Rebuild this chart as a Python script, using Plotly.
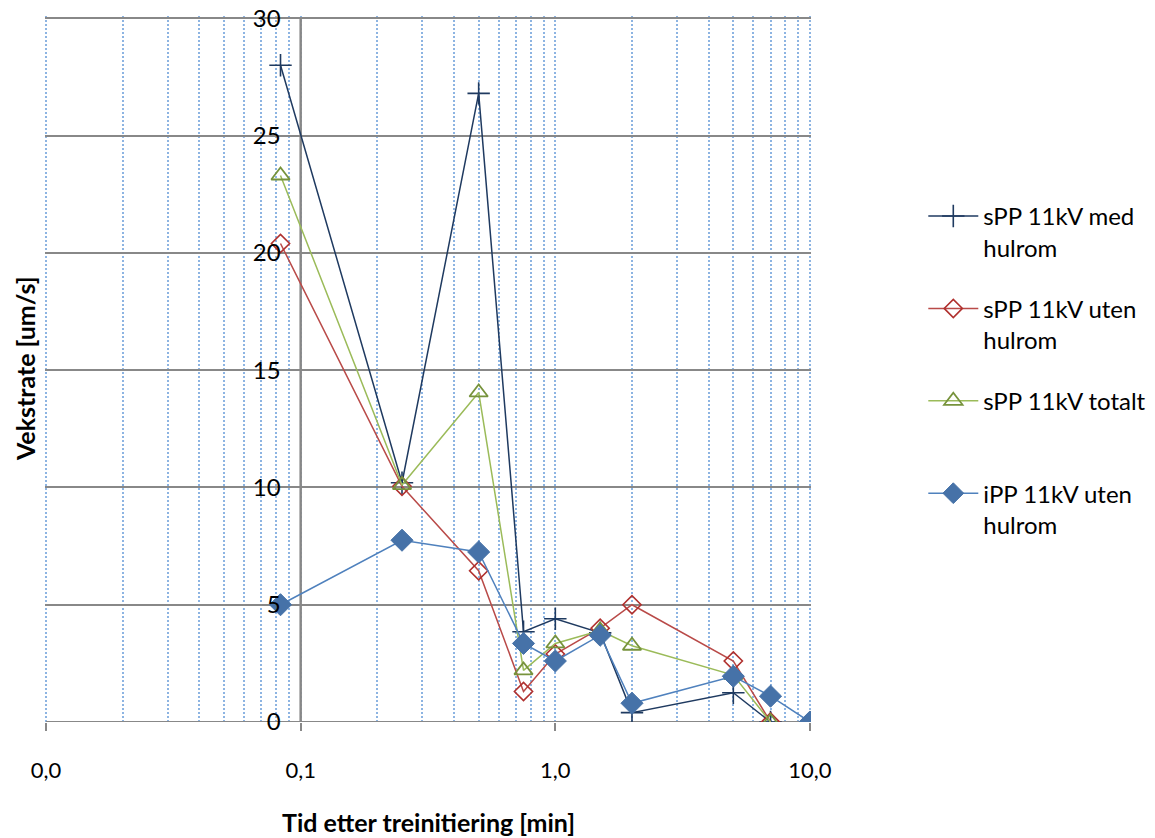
import math
import plotly.graph_objects as go

# x values: time after tree initiation [min]
x_vals = [5/60, 0.25, 0.5, 0.75, 1.0, 1.5, 2.0, 5.0, 7.0]
x_vals_ipp = [5/60, 0.25, 0.5, 0.75, 1.0, 1.5, 2.0, 5.0, 7.0, 10.0]

spp_med = [28.0, 10.2, 26.8, 3.85, 4.4, 3.8, 0.4, 1.25, 0.0]
spp_uten = [20.4, 10.05, 6.45, 1.3, 2.9, 4.0, 5.0, 2.6, 0.0]
spp_totalt = [23.3, 10.1, 14.05, 2.2, 3.35, 3.9, 3.25, 2.0, 0.0]
ipp_uten = [5.0, 7.75, 7.25, 3.35, 2.6, 3.7, 0.8, 1.95, 1.1, 0.0]

names = ["sPP 11kV med<br>hulrom", "sPP 11kV uten<br>hulrom", "sPP 11kV totalt<br> ", "iPP 11kV uten<br>hulrom"]

x_tickvals = [0.01, 0.1, 1, 10]
x_ticktext = ["0,0", "0,1", "1,0", "10,0"]
y_tickvals = [0, 5, 10, 15, 20, 25, 30]

minor_vals = [m * 10**e for e in (-2, -1, 0) for m in range(2, 10)]

FONT = "Lato, 'Open Sans', sans-serif"
GRID_GRAY = "#888888"
DOT_BLUE = "#8DB4E2"

X_RANGE = [-2.004, 1.004]
Y_RANGE = [0, 30.1]
Y_CROSS = 0.1  # y axis crosses x axis at this value
y_pos = (math.log10(Y_CROSS) - X_RANGE[0]) / (X_RANGE[1] - X_RANGE[0])

fig = go.Figure()

fig.add_trace(go.Scatter(
    x=x_vals, y=spp_med, name=names[0], mode="lines+markers",
    line=dict(color="#1F3A60", width=1.5),
    marker=dict(symbol="cross-thin", size=16, line=dict(color="#1F3A60", width=1.6)),
    legendgroup="a"))
fig.add_trace(go.Scatter(
    x=x_vals, y=spp_uten, name=names[1], mode="lines+markers",
    line=dict(color="#B94A48", width=1.5),
    marker=dict(symbol="diamond-open", size=14, color="#B0302E", line=dict(color="#B0302E", width=1.6)),
    legendgroup="b"))
fig.add_trace(go.Scatter(
    x=x_vals, y=spp_totalt, name=names[2], mode="lines+markers",
    line=dict(color="#9BBB59", width=1.5),
    marker=dict(symbol="triangle-up-open", size=16, color="#77933C", line=dict(color="#77933C", width=1.8)),
    legendgroup="c"))
fig.add_trace(go.Scatter(
    x=x_vals_ipp, y=ipp_uten, name=names[3], mode="lines+markers",
    line=dict(color="#4F81BD", width=1.5),
    marker=dict(symbol="diamond", size=17, color="#4672A8", line=dict(color="#4672A8", width=1)),
    legendgroup="d"))

fig.update_layout(
    width=1155, height=838,
    margin=dict(l=45, r=344, t=16, b=116, autoexpand=False),
    paper_bgcolor="white", plot_bgcolor="white",
    font=dict(family=FONT, size=22, color="black"),
    showlegend=True,
    legend=dict(x=1.1466, xanchor="left", y=0.748, yanchor="top",
                font=dict(size=24, family=FONT, color="black"),
                itemwidth=50,
                valign="top", tracegroupgap=27, bgcolor="rgba(0,0,0,0)"),
    xaxis=dict(
        type="log", range=X_RANGE, automargin=False,
        tickmode="array", tickvals=x_tickvals, ticktext=x_ticktext,
        ticks="outside", ticklen=8, tickwidth=2, tickcolor=GRID_GRAY,
        ticklabelstandoff=21, ticklabeloverflow="allow",
        showgrid=True, gridcolor=DOT_BLUE, griddash="2px,2px", gridwidth=2,
        minor=dict(tickmode="array", tickvals=minor_vals, showgrid=True,
                   gridcolor=DOT_BLUE, griddash="2px,2px", gridwidth=2, ticks=""),
        showline=False,
        zeroline=False,
        tickfont=dict(size=22, family=FONT),
    ),
    yaxis=dict(
        range=Y_RANGE, tickmode="array", tickvals=y_tickvals, automargin=False,
        anchor="free", position=y_pos,
        showline=False,
        ticks="", ticklabelstandoff=20, ticklabeloverflow="allow",
        showgrid=True, gridcolor=GRID_GRAY, gridwidth=2,
        zeroline=False,
        tickfont=dict(size=24, family=FONT),
    ),
    annotations=[
        dict(text="<b>Vekstrate [um/s]</b>", textangle=-90, xref="paper", yref="paper",
             x=-0.026, y=0.5, xanchor="center", yanchor="middle", showarrow=False,
             font=dict(size=25, family=FONT)),
        dict(text="<b>Tid etter treinitiering [min]</b>", xref="paper", yref="paper",
             x=0.5, y=-0.1416, xanchor="center", yanchor="middle", showarrow=False,
             font=dict(size=25, family=FONT)),
    ],
    shapes=[
        # axis lines (x axis along y=0 between 0.01 and 10, y axis at x=0.1 from 0 to 30)
        dict(type="line", xref="x", yref="y", x0=x_tickvals[0], x1=x_tickvals[-1], y0=0, y1=0,
             line=dict(color=GRID_GRAY, width=2), layer="between"),
        dict(type="line", xref="x", yref="y", x0=Y_CROSS, x1=Y_CROSS, y0=0, y1=y_tickvals[-1],
             line=dict(color=GRID_GRAY, width=2.5), layer="between"),
    ],
)

fig.write_html("out.html", config={"displayModeBar": False},
               post_script="document.body.style.margin='0';")
